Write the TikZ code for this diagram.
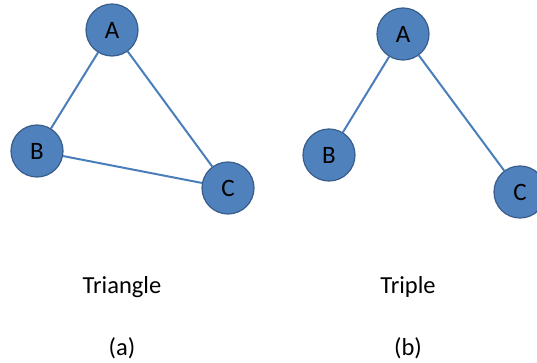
\documentclass[tikz,border=0pt]{standalone}
\usepackage{fontspec}
\setmainfont{Carlito}
\usepackage{xcolor}
\usepackage{tikz}
\usetikzlibrary{positioning}
\definecolor{gBlue}{HTML}{4F81BD}
\definecolor{gBlueDark}{HTML}{385D8A}
\definecolor{gEdge}{HTML}{4A7EBB}
\tikzset{
  vertex/.style={
    circle, draw=gBlueDark, line width=1.2pt,
    fill=gBlue,
    minimum size=52pt, inner sep=0pt,
    font=\fontsize{25}{29}\selectfont
  },
  edge/.style={
    gEdge, line width=2pt
  },
  caption/.style={font=\fontsize{24.5}{29}\selectfont}
}

\begin{document}
\begin{tikzpicture}[x=1pt, y=1pt]
      \useasboundingbox (0,0) rectangle (537,362);
      \clip (0,0) rectangle (537,362);
      % (a) triangle
      \node[vertex] (tA) at (112, 332) {A};
      \node[vertex] (tB) at (37, 211) {B};
      \node[vertex] (tC) at (228, 174) {C};
      \draw[edge] (tA) -- (tB);
      \draw[edge] (tA) -- (tC);
      \draw[edge] (tB) -- (tC);
      % (b) triple
      \node[vertex] (pA) at (403, 328) {A};
      \node[vertex] (pB) at (329, 207) {B};
      \node[vertex] (pC) at (520, 170) {C};
      \draw[edge] (pA) -- (pB);
      \draw[edge] (pA) -- (pC);
      % captions
      \node[caption] (triname) at (122, 75) {Triangle};
      \node[caption] (tripname) at (408, 75) {Triple};
      \node[caption] (alabel) at (122, 14) {(a)};
      \node[caption] (blabel) at (408, 14) {(b)};
    \end{tikzpicture}
\end{document}
